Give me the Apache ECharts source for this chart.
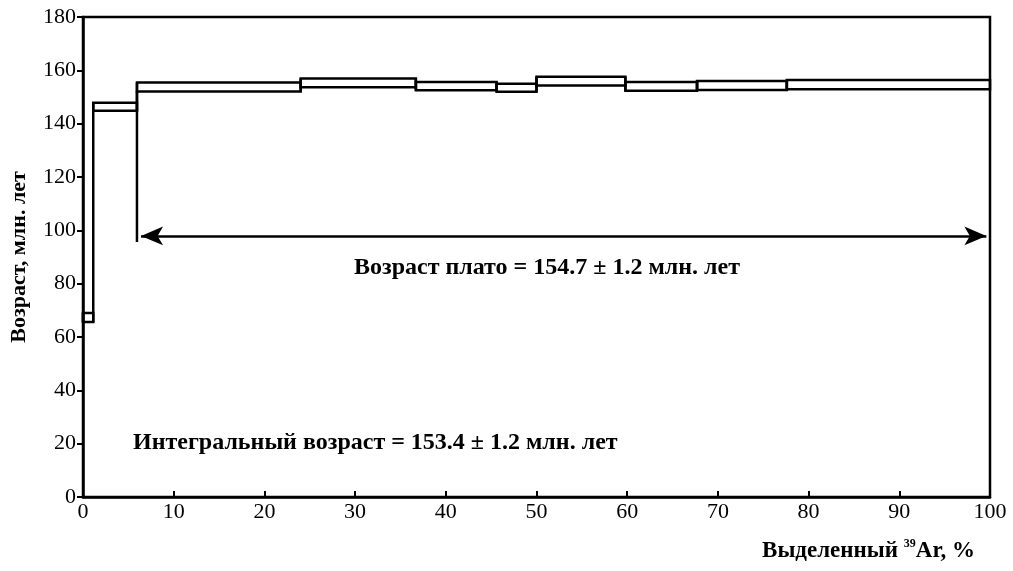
<!DOCTYPE html>
<html>
<head>
<meta charset="utf-8">
<script src="https://cdn.jsdelivr.net/npm/echarts@6/dist/echarts.min.js"></script>
<style>
  html, body { margin: 0; padding: 0; background: #fff; }
  #chart { width: 1013px; height: 571px; }
</style>
</head>
<body>
<div id="chart"></div>
<script>
// step heating spectrum: each step spans [stepStart, stepEnd] in % 39Ar
const stepStart = [0, 1.13, 5.95, 24.0, 36.7, 45.6, 50.0, 59.8, 67.7, 77.6]
const stepEnd = [1.13, 5.95, 24.0, 36.7, 45.6, 50.0, 59.8, 67.7, 77.6, 100]
const ageLow = [65.6, 144.8, 152.1, 153.7, 152.5, 152.0, 154.3, 152.3, 152.6, 152.9]
const ageHigh = [69.0, 147.8, 155.4, 156.9, 155.6, 155.0, 157.6, 155.6, 156.0, 156.4]

// plateau marker
const plateauStart = 5.95
const plateauMarkerBottom = 95.6
const arrowFrom = [6.4, 97.9]
const arrowTo = [99.6, 97.9]

const xTicks = [0, 10, 20, 30, 40, 50, 60, 70, 80, 90, 100]
const yTicks = [0, 20, 40, 60, 80, 100, 120, 140, 160, 180]

const plateauText = 'Возраст плато = 154.7 ± 1.2 млн. лет'
const integralText = 'Интегральный возраст = 153.4 ± 1.2 млн. лет'

const serif = '"Liberation Serif", "DejaVu Serif", serif'
const lineW = 2.5

const chart = echarts.init(document.getElementById('chart'))

// each item: start, end, low, high, and the previous step's low/high for the joining edge
const steps = stepStart.map((s, i) => {
  const prev = i > 0 ? i - 1 : i
  return [s, stepEnd[i], ageLow[i], ageHigh[i], ageLow[prev], ageHigh[prev]]
})

function renderStep(params, api) {
  const x0 = api.value(0)
  const x1 = api.value(1)
  const lo = api.value(2)
  const hi = api.value(3)
  const p0 = api.coord([x0, hi])
  const p1 = api.coord([x1, lo])
  const j0 = api.coord([x0, Math.min(lo, api.value(4))])
  const j1 = api.coord([x0, Math.max(hi, api.value(5))])
  const style = { fill: 'none', stroke: '#000', lineWidth: lineW }
  return {
    type: 'group',
    children: [
      {
        type: 'rect',
        shape: { x: p0[0], y: p0[1], width: p1[0] - p0[0], height: p1[1] - p0[1] },
        style: style
      },
      {
        type: 'line',
        shape: { x1: j0[0], y1: j0[1], x2: j1[0], y2: j1[1] },
        style: style
      }
    ]
  }
}

const option = {
  backgroundColor: '#fff',
  animation: false,
  grid: {
    left: 82,
    right: 23,
    top: 17,
    bottom: 74,
    show: true,
    borderColor: '#000',
    borderWidth: lineW,
    backgroundColor: 'transparent'
  },
  xAxis: {
    type: 'value',
    min: xTicks[0],
    max: xTicks[xTicks.length - 1],
    interval: 10,
    axisLine: { lineStyle: { color: '#000', width: lineW } },
    axisTick: { inside: true, length: 6, lineStyle: { color: '#000', width: 2 } },
    axisLabel: {
      color: '#000',
      fontFamily: serif,
      fontSize: 22,
      margin: 4
    },
    splitLine: { show: false }
  },
  yAxis: {
    type: 'value',
    min: yTicks[0],
    max: yTicks[yTicks.length - 1],
    interval: 20,
    axisLine: { lineStyle: { color: '#000', width: lineW } },
    axisTick: { length: 6, lineStyle: { color: '#000', width: 2 } },
    axisLabel: {
      color: '#000',
      fontFamily: serif,
      fontSize: 22,
      margin: 7
    },
    splitLine: { show: false },
    name: 'Возраст, млн. лет',
    nameLocation: 'middle',
    nameGap: 53,
    nameTextStyle: {
      color: '#000',
      fontFamily: serif,
      fontWeight: 'bold',
      fontSize: 22
    }
  },
  series: [
    {
      type: 'custom',
      renderItem: renderStep,
      data: steps,
      encode: { x: [0, 1], y: [2, 3] },
      silent: true,
      z: 3
    },
    {
      type: 'line',
      data: [[plateauStart, plateauMarkerBottom], [plateauStart, ageLow[2]]],
      symbol: 'none',
      silent: true,
      lineStyle: { color: '#000', width: lineW },
      z: 3,
      markLine: {
        silent: true,
        symbol: ['arrow', 'arrow'],
        symbolSize: [14, 22],
        label: { show: false },
        lineStyle: { color: '#000', width: lineW, type: 'solid' },
        data: [[{ coord: arrowFrom }, { coord: arrowTo }]]
      }
    }
  ],
  graphic: [
    {
      type: 'text',
      x: 547,
      y: 268,
      style: {
        text: plateauText,
        fill: '#000',
        font: 'bold 24px ' + serif,
        align: 'center',
        verticalAlign: 'middle'
      }
    },
    {
      type: 'text',
      x: 133,
      y: 443,
      style: {
        text: integralText,
        fill: '#000',
        font: 'bold 24px ' + serif,
        align: 'left',
        verticalAlign: 'middle'
      }
    },
    {
      type: 'text',
      x: 975,
      y: 551,
      style: {
        text: '{b|Выделенный }{s|39}{b|Ar, %}',
        align: 'right',
        verticalAlign: 'middle',
        rich: {
          b: { fontFamily: serif, fontWeight: 'bold', fontSize: 23, color: '#000', lineHeight: 26 },
          s: { fontFamily: serif, fontWeight: 'bold', fontSize: 12, color: '#000', verticalAlign: 'top', lineHeight: 26 }
        }
      }
    }
  ]
}

chart.setOption(option)
</script>
</body>
</html>
